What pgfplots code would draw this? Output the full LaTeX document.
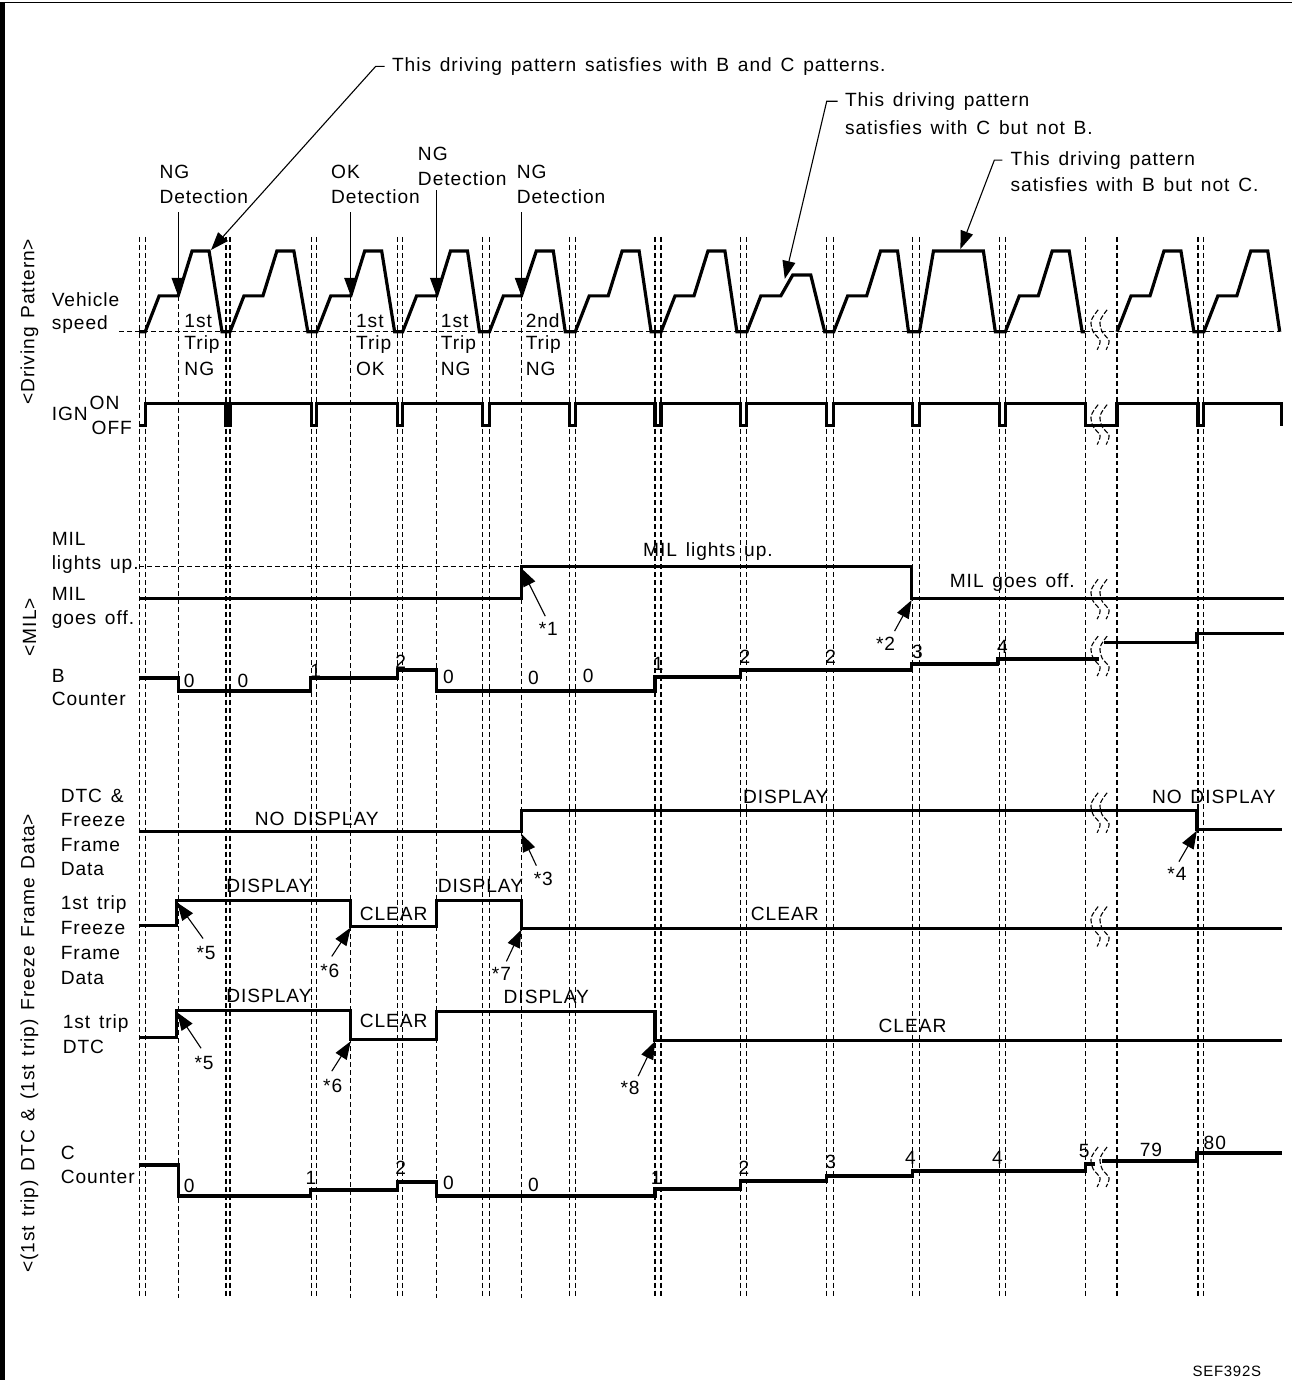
\documentclass[border=0pt]{standalone}
\usepackage{fontspec}
\setmainfont{Liberation Sans}[LetterSpace=5,WordSpace=1.4]
\usepackage{pgfplots}
\pgfplotsset{compat=1.18}
\usetikzlibrary{arrows.meta}
\newcommand{\fs}{\fontsize{9.6bp}{10bp}\selectfont}
\tikzset{
  sig/.style={black, line width=1.6bp},
  thin/.style={black, line width=0.5bp},
  guide/.style={black, line width=0.6bp, dash pattern=on 2.5bp off 1.5bp},
  brk/.style={black, line width=0.55bp, smooth, dash pattern=on 2.5bp off 1bp},
  arr/.style={black, line width=0.55bp, -{Triangle[length=9bp,width=6.5bp]}},
  lbl/.style={anchor=west, inner sep=0pt, font=\fs},
  ctr/.style={anchor=center, inner sep=0pt, font=\fs},
}

\begin{document}
\begin{tikzpicture}
\begin{axis}[
  scale only axis, width=647.5bp, height=691bp,
  xmin=0, xmax=1295, ymin=0, ymax=1382, y dir=reverse,
  hide axis, clip=false,
  every axis plot/.append style={no marks},
]
% frame (left and top)
\addplot[black, line width=2.5bp] coordinates {(3,1382) (3,2)};
\addplot[black, line width=1bp] coordinates {(2,2) (1295,2)};

% vertical guides (IGN off pairs)
\pgfplotsinvokeforeach{140,146,227,231,313,318,399,404,484,491,571,577,657,663,743,749,829,836,915,922,1002,1008,1088,1120,1201,1207}{
  \addplot[guide] coordinates {(#1,237) (#1,1300)};
}
% detection guides
\pgfplotsinvokeforeach{179,352,438,523}{
  \addplot[guide] coordinates {(#1,296) (#1,1300)};
}

% vehicle speed baseline
\addplot[guide] coordinates {(120,332) (1283,332)};

% vehicle speed
\addplot[sig] coordinates {
 (140,332)(146,332)(160,296)(179,296)(193,251)(210,251)(223,332)(231,332)
 (245,296)(264,296)(278,251)(295,251)(309,332)(318,332)
 (332,296)(352,296)(366,251)(383,251)(396,332)(404,332)
 (418,296)(438,296)(452,251)(469,251)(481,332)(491,332)
 (505,296)(523,296)(538,251)(555,251)(567,332)(577,332)
 (591,296)(610,296)(624,251)(641,251)(653,332)(663,332)
 (677,296)(696,296)(710,251)(727,251)(739,332)(749,332)
 (763,296)(783,296)(795,275)(813,275)(827,332)(836,332)
 (850,296)(869,296)(883,251)(900,251)(911,332)(922,332)
 (936,251)(986,251)(998,332)(1008,332)
 (1022,296)(1041,296)(1055,251)(1072,251)(1085,332)(1088,332)
};
\addplot[sig] coordinates {
 (1120,332)(1134,296)(1153,296)(1167,251)(1184,251)(1197,332)(1207,332)
 (1221,296)(1240,296)(1254,251)(1271,251)(1283,332)
};

% IGN
\addplot[sig] coordinates {
 (140,426)(146,426)(146,404)(227,404)(227,426)(231,426)(231,404)
 (313,404)(313,426)(318,426)(318,404)(399,404)(399,426)(404,426)(404,404)
 (484,404)(484,426)(491,426)(491,404)(571,404)(571,426)(577,426)(577,404)
 (657,404)(657,426)(663,426)(663,404)(743,404)(743,426)(749,426)(749,404)
 (829,404)(829,426)(836,426)(836,404)(915,404)(915,426)(922,426)(922,404)
 (1002,404)(1002,426)(1008,426)(1008,404)(1088,404)(1088,426)(1120,426)(1120,404)
 (1201,404)(1201,426)(1207,426)(1207,404)(1285,404)(1285,426)
};

% MIL
\addplot[guide] coordinates {(140,567) (523,567)};
\addplot[sig] coordinates {(140,599)(523,599)(523,567)(914,567)(914,599)(1287,599)};

% B counter
\addplot[sig] coordinates {
 (140,679)(179,679)(179,692)(312,692)(312,679)(399,679)(399,671)(438,671)(438,692)
 (657,692)(657,678)(743,678)(743,671)(914,671)(914,665)(1000,665)(1000,660)(1102,660)
};
\addplot[sig] coordinates {(1107,643)(1200,643)(1200,634)(1287,634)};

% DTC & freeze frame data
\addplot[sig] coordinates {(140,833)(523,833)(523,812)(1200,812)(1200,831)(1285,831)};
% 1st trip freeze frame data
\addplot[sig] coordinates {
 (140,927)(177,927)(177,902)(352,902)(352,928)(438,928)(438,902)(523,902)(523,930)(1285,930)
};
% 1st trip DTC
\addplot[sig] coordinates {
 (140,1039)(177,1039)(177,1012)(352,1012)(352,1041)(438,1041)(438,1013)(657,1013)(657,1042)(1285,1042)
};
% C counter
\addplot[sig] coordinates {
 (140,1167)(179,1167)(179,1198)(312,1198)(312,1192)(399,1192)(399,1184)(438,1184)(438,1198)
 (657,1198)(657,1191)(743,1191)(743,1183)(829,1183)(829,1178)(915,1178)(915,1173)
 (1088,1173)(1088,1166)(1098,1166)
};
\addplot[sig] coordinates {(1105,1163)(1200,1163)(1200,1155)(1285,1155)};

% break marks
\pgfplotsinvokeforeach{330,425,600,657,814,928,1169}{
  \addplot[brk, y filter/.expression={y+#1}] coordinates {(1101,-20)(1094,-9)(1096,2)(1103,11)(1100,20)};
  \addplot[brk, y filter/.expression={y+#1}] coordinates {(1110,-20)(1103,-9)(1105,2)(1112,11)(1109,20)};
}

% detection arrows
\addplot[arr] coordinates {(179,212)(179,296)};
\addplot[arr] coordinates {(352,212)(352,296)};
\addplot[arr] coordinates {(438,190)(438,296)};
\addplot[arr] coordinates {(523,212)(523,296)};

% leader arrows
\addplot[arr] coordinates {(386,66)(377,66)(212,250)};
\addplot[arr] coordinates {(840,101)(829,101)(787,279)};
\addplot[arr] coordinates {(1005,160)(997,160)(963,249)};

% note arrows
\addplot[arr] coordinates {(547,617)(523,569)};
\addplot[arr] coordinates {(897,632)(914,601)};
\addplot[arr] coordinates {(538,867)(523,835)};
\addplot[arr] coordinates {(1182,863)(1200,832)};
\addplot[arr] coordinates {(204,940)(178,904)};
\addplot[arr] coordinates {(333,958)(352,929)};
\addplot[arr] coordinates {(508,963)(523,931)};
\addplot[arr] coordinates {(202,1050)(178,1014)};
\addplot[arr] coordinates {(333,1073)(352,1043)};
\addplot[arr] coordinates {(640,1078)(657,1043)};

% annotations at top
\node[lbl] at (axis cs:393,66) {This driving pattern satisfies with B and C patterns.};
\node[lbl] at (axis cs:847,101) {This driving pattern};
\node[lbl] at (axis cs:847,127) {satisfies with C but not B.};
\node[lbl] at (axis cs:1013,160) {This driving pattern};
\node[lbl] at (axis cs:1013,185) {satisfies with B but not C.};

\node[lbl] at (axis cs:160,172) {NG};
\node[lbl] at (axis cs:160,197) {Detection};
\node[lbl] at (axis cs:332,172) {OK};
\node[lbl] at (axis cs:332,197) {Detection};
\node[lbl] at (axis cs:419,154) {NG};
\node[lbl] at (axis cs:419,179) {Detection};
\node[lbl] at (axis cs:518,172) {NG};
\node[lbl] at (axis cs:518,197) {Detection};

\node[lbl] at (axis cs:185,321) {1st};
\node[lbl] at (axis cs:185,345) {Trip};
\node[lbl] at (axis cs:185,369) {NG};
\node[lbl] at (axis cs:357,321) {1st};
\node[lbl] at (axis cs:357,345) {Trip};
\node[lbl] at (axis cs:357,369) {OK};
\node[lbl] at (axis cs:442,321) {1st};
\node[lbl] at (axis cs:442,345) {Trip};
\node[lbl] at (axis cs:442,369) {NG};
\node[lbl] at (axis cs:527,321) {2nd};
\node[lbl] at (axis cs:527,345) {Trip};
\node[lbl] at (axis cs:527,369) {NG};

% left labels
\node[ctr, rotate=90] at (axis cs:30,322) {<Driving Pattern>};
\node[ctr, rotate=90] at (axis cs:30,628) {<MIL>};
\node[ctr, rotate=90] at (axis cs:30,1045) {<(1st trip) DTC \& (1st trip) Freeze Frame Data>};

\node[lbl] at (axis cs:52,300) {Vehicle};
\node[lbl] at (axis cs:52,325) {speed};
\node[lbl] at (axis cs:52,414) {IGN};
\node[lbl] at (axis cs:90,403) {ON};
\node[lbl] at (axis cs:92,428) {OFF};

\node[lbl] at (axis cs:52,540) {MIL};
\node[lbl] at (axis cs:52,565) {lights up.};
\node[lbl] at (axis cs:52,595) {MIL};
\node[lbl] at (axis cs:52,620) {goes off.};
\node[lbl] at (axis cs:52,677) {B};
\node[lbl] at (axis cs:52,700) {Counter};

\node[lbl] at (axis cs:61,797) {DTC \&};
\node[lbl] at (axis cs:61,821) {Freeze};
\node[lbl] at (axis cs:61,846) {Frame};
\node[lbl] at (axis cs:61,870) {Data};
\node[lbl] at (axis cs:61,906) {1st trip};
\node[lbl] at (axis cs:61,930) {Freeze};
\node[lbl] at (axis cs:61,955) {Frame};
\node[lbl] at (axis cs:61,980) {Data};
\node[lbl] at (axis cs:63,1025) {1st trip};
\node[lbl] at (axis cs:63,1049) {DTC};
\node[lbl] at (axis cs:61,1155) {C};
\node[lbl] at (axis cs:61,1179) {Counter};

% state texts
\node[ctr] at (axis cs:710,552) {MIL lights up.};
\node[ctr] at (axis cs:1015,583) {MIL goes off.};
\node[ctr] at (axis cs:318,820) {NO DISPLAY};
\node[ctr] at (axis cs:788,798) {DISPLAY};
\node[ctr] at (axis cs:1217,798) {NO DISPLAY};
\node[ctr] at (axis cs:270,887) {DISPLAY};
\node[ctr] at (axis cs:395,915) {CLEAR};
\node[ctr] at (axis cs:482,887) {DISPLAY};
\node[ctr] at (axis cs:787,915) {CLEAR};
\node[ctr] at (axis cs:270,998) {DISPLAY};
\node[ctr] at (axis cs:395,1023) {CLEAR};
\node[ctr] at (axis cs:548,999) {DISPLAY};
\node[ctr] at (axis cs:915,1028) {CLEAR};

% note numbers
\node[ctr] at (axis cs:550,630) {*1};
\node[ctr] at (axis cs:888,645) {*2};
\node[ctr] at (axis cs:545,880) {*3};
\node[ctr] at (axis cs:1180,875) {*4};
\node[ctr] at (axis cs:207,955) {*5};
\node[ctr] at (axis cs:331,972) {*6};
\node[ctr] at (axis cs:503,976) {*7};
\node[ctr] at (axis cs:205,1065) {*5};
\node[ctr] at (axis cs:334,1088) {*6};
\node[ctr] at (axis cs:632,1090) {*8};

% B counter values
\node[ctr] at (axis cs:190,682) {0};
\node[ctr] at (axis cs:244,682) {0};
\node[ctr] at (axis cs:317,672) {1};
\node[ctr] at (axis cs:402,663) {2};
\node[ctr] at (axis cs:450,678) {0};
\node[ctr] at (axis cs:535,679) {0};
\node[ctr] at (axis cs:590,677) {0};
\node[ctr] at (axis cs:660,665) {1};
\node[ctr] at (axis cs:747,658) {2};
\node[ctr] at (axis cs:833,658) {2};
\node[ctr] at (axis cs:920,653) {3};
\node[ctr] at (axis cs:1005,648) {4};

% C counter values
\node[ctr] at (axis cs:190,1188) {0};
\node[ctr] at (axis cs:312,1180) {1};
\node[ctr] at (axis cs:402,1170) {2};
\node[ctr] at (axis cs:450,1185) {0};
\node[ctr] at (axis cs:535,1187) {0};
\node[ctr] at (axis cs:658,1180) {1};
\node[ctr] at (axis cs:746,1170) {2};
\node[ctr] at (axis cs:833,1164) {3};
\node[ctr] at (axis cs:913,1160) {4};
\node[ctr] at (axis cs:1000,1160) {4};
\node[ctr] at (axis cs:1087,1153) {5};
\node[ctr] at (axis cs:1154,1152) {79};
\node[ctr] at (axis cs:1218,1145) {80};

\node[ctr, font=\fontsize{7.5bp}{8bp}\selectfont] at (axis cs:1230,1374) {SEF392S};
\end{axis}
\end{tikzpicture}
\end{document}
